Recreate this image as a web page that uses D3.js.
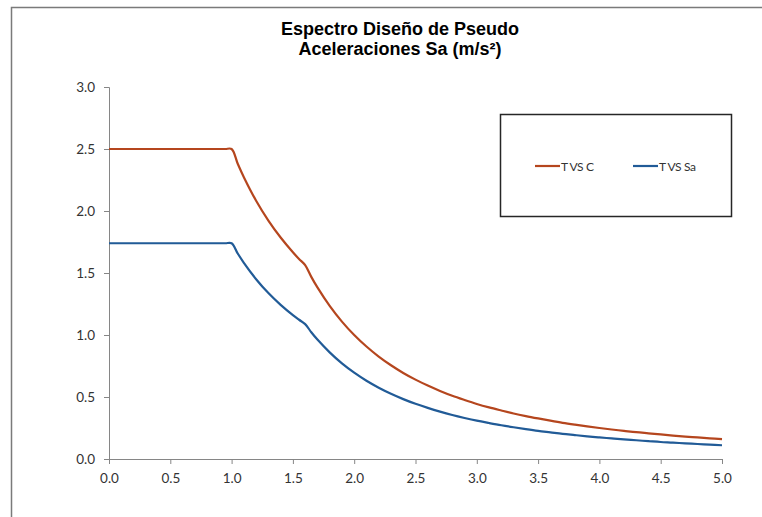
<!DOCTYPE html>
<html>
<head>
<meta charset="utf-8">
<script src="https://cdn.jsdelivr.net/npm/d3@7"></script>
<style>
  html, body { margin: 0; padding: 0; background: #fff; }
  svg { display: block; }
</style>
</head>
<body>
<svg id="chart" width="762" height="517"></svg>
<script>
const titleLines = ["Espectro Diseño de Pseudo", "Aceleraciones Sa (m/s²)"];
const seriesNames = ["T VS C", "T VS Sa"];
const xTicks = [0, 0.5, 1.0, 1.5, 2.0, 2.5, 3.0, 3.5, 4.0, 4.5, 5.0];
const yTicks = [0, 0.5, 1.0, 1.5, 2.0, 2.5, 3.0];

const periodT = [0, 0.1, 0.2, 0.3, 0.4, 0.5, 0.6, 0.7, 0.8, 0.9, 0.95, 1.0, 1.05, 1.1, 1.2, 1.3, 1.4, 1.5, 1.55, 1.6, 1.65, 1.7, 1.8, 1.9, 2.0,
  2.1, 2.2, 2.3, 2.4, 2.5, 2.6, 2.7, 2.8, 2.9, 3.0, 3.1, 3.2, 3.3, 3.4, 3.5, 3.6, 3.7, 3.8, 3.9, 4.0,
  4.1, 4.2, 4.3, 4.4, 4.5, 4.6, 4.7, 4.8, 4.9, 5.0];
const valuesC = [2.5, 2.5, 2.5, 2.5, 2.5, 2.5, 2.5, 2.5, 2.5, 2.5, 2.5, 2.5, 2.381, 2.273, 2.083, 1.923, 1.786, 1.667, 1.613, 1.563, 1.469, 1.384, 1.235, 1.108, 1.0,
  0.907, 0.826, 0.756, 0.694, 0.640, 0.592, 0.549, 0.510, 0.476, 0.444, 0.416, 0.391, 0.367, 0.346, 0.327, 0.309, 0.292, 0.277, 0.263, 0.250,
  0.238, 0.227, 0.216, 0.207, 0.198, 0.189, 0.181, 0.174, 0.167, 0.160];
const valuesSa = [1.74, 1.74, 1.74, 1.74, 1.74, 1.74, 1.74, 1.74, 1.74, 1.74, 1.74, 1.74, 1.657, 1.582, 1.450, 1.338, 1.243, 1.160, 1.123, 1.088, 1.022, 0.963, 0.860, 0.771, 0.696,
  0.631, 0.575, 0.526, 0.483, 0.445, 0.412, 0.382, 0.355, 0.331, 0.309, 0.290, 0.272, 0.256, 0.241, 0.227, 0.215, 0.203, 0.193, 0.183, 0.174,
  0.166, 0.158, 0.151, 0.144, 0.137, 0.132, 0.126, 0.121, 0.116, 0.111];
const colors = ["#B5461E", "#215B97"];

const svg = d3.select("#chart");

// outer chart border
svg.append("rect").attr("x", 11.5).attr("y", 7.5).attr("width", 780).attr("height", 540)
  .attr("fill", "#fff").attr("stroke", "#7a7a7a").attr("stroke-width", 1.5);

// title
const title = svg.append("text").attr("text-anchor", "middle")
  .attr("font-family", "Liberation Sans, Arial, sans-serif").attr("font-weight", "bold")
  .attr("font-size", 18).attr("fill", "#000");
titleLines.forEach((t, i) => {
  title.append("tspan").attr("x", 400).attr("y", 35 + i * 20).text(t);
});

const x = d3.scaleLinear().domain([0, 5]).range([109, 722]);
const y = d3.scaleLinear().domain([0, 3]).range([459, 87]);

const fontTick = "Lato, 'Open Sans', sans-serif";

const xAxis = svg.append("g").attr("transform", "translate(0,459)")
  .call(d3.axisBottom(x).tickValues(xTicks).tickFormat(d3.format(".1f")).tickSize(5).tickPadding(9));
const yAxis = svg.append("g").attr("transform", "translate(109,0)")
  .call(d3.axisLeft(y).tickValues(yTicks).tickFormat(d3.format(".1f")).tickSize(5).tickPadding(9));
[xAxis, yAxis].forEach(g => {
  g.select(".domain").attr("stroke", "#868686").attr("stroke-width", 1);
  g.selectAll(".tick line").attr("stroke", "#868686");
  g.selectAll(".tick text").attr("font-family", fontTick).attr("font-size", 13.5).attr("fill", "#333");
});

const line = d3.line().x(d => x(d[0])).y(d => y(d[1])).curve(d3.curveCatmullRom.alpha(0.5));
[valuesC, valuesSa].forEach((vals, i) => {
  svg.append("path").datum(periodT.map((t, j) => [t, vals[j]]))
    .attr("d", line).attr("fill", "none").attr("stroke", colors[i]).attr("stroke-width", 2.2);
});

// legend
svg.append("rect").attr("x", 500.5).attr("y", 114.5).attr("width", 231).attr("height", 102)
  .attr("fill", "#fff").attr("stroke", "#262626").attr("stroke-width", 1.5);
const legendX = [535, 633];
seriesNames.forEach((n, i) => {
  svg.append("line").attr("x1", legendX[i]).attr("x2", legendX[i] + 25).attr("y1", 166).attr("y2", 166)
    .attr("stroke", colors[i]).attr("stroke-width", 2.2);
  svg.append("text").attr("x", legendX[i] + 26).attr("y", 170.5).attr("font-family", fontTick)
    .attr("font-size", 12).attr("fill", "#333").attr("letter-spacing", -0.4).text(n);
});
</script>
</body>
</html>
